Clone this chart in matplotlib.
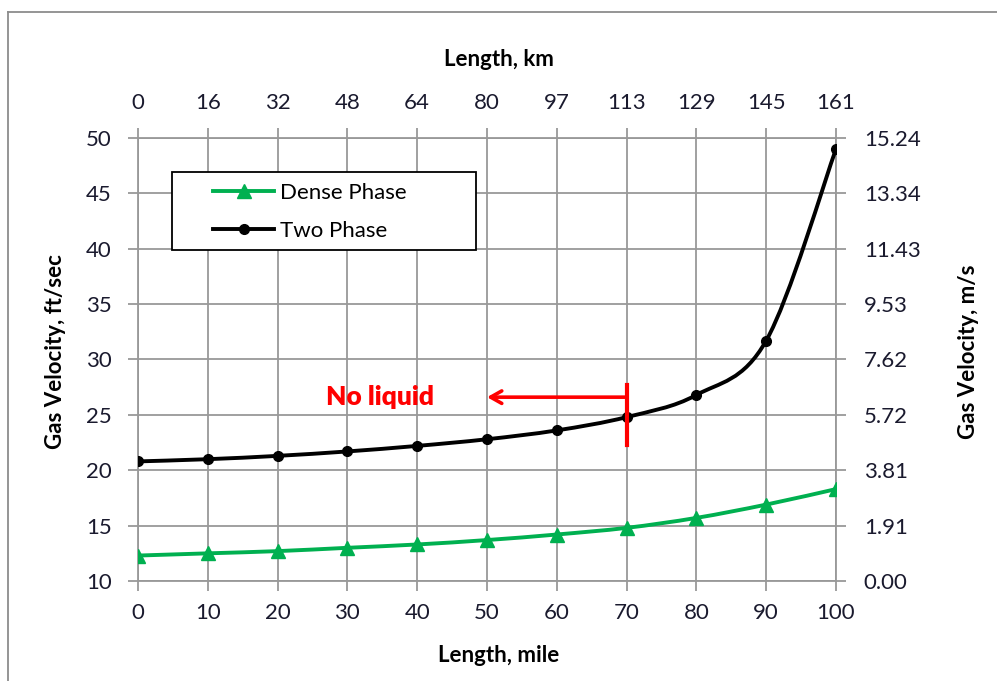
import matplotlib
matplotlib.use("Agg")
import matplotlib.pyplot as plt
from matplotlib.path import Path
from matplotlib.patches import PathPatch, Rectangle
from matplotlib.lines import Line2D
import numpy as np

plt.rcParams['font.family'] = ['Lato', 'DejaVu Sans']

# Dane
length_mile = [0, 10, 20, 30, 40, 50, 60, 70, 80, 90, 100]
dense_phase = [12.3, 12.5, 12.7, 13.0, 13.3, 13.7, 14.2, 14.8, 15.7, 16.9, 18.3]
two_phase = [20.8, 21.0, 21.3, 21.7, 22.2, 22.8, 23.6, 24.8, 26.8, 31.7, 49.0]

km_labels = ["0", "16", "32", "48", "64", "80", "97", "113", "129", "145", "161"]
ms_labels = ["0.00", "1.91", "3.81", "5.72", "7.62", "9.53", "11.43", "13.34", "15.24"]

GREEN = "#00B050"
GRID = "#999999"
FS = 16


def smooth_path(x, y):
    # krzywa Beziera jak "wygładzona linia" w Excelu
    x = np.asarray(x, float)
    y = np.asarray(y, float)
    verts = [(x[0], y[0])]
    codes = [Path.MOVETO]
    n = len(x)
    for i in range(n - 1):
        i0 = max(i - 1, 0)
        i3 = min(i + 2, n - 1)
        c1 = (x[i] + (x[i + 1] - x[i0]) / 6, y[i] + (y[i + 1] - y[i0]) / 6)
        c2 = (x[i + 1] - (x[i3] - x[i]) / 6, y[i + 1] - (y[i3] - y[i]) / 6)
        verts += [c1, c2, (x[i + 1], y[i + 1])]
        codes += [Path.CURVE4] * 3
    return Path(verts, codes)


fig = plt.figure(figsize=(9.97, 6.81), dpi=100)
ax = fig.add_axes([0.1384, 0.1468, 0.7001, 0.6506])

ax.set_xlim(0, 100)
ax.set_ylim(10, 50)
ax.set_xticks(np.arange(0, 101, 10))
ax.set_yticks(np.arange(10, 51, 5))
ax.grid(True, color=GRID, linewidth=1.3)
for s in ax.spines.values():
    s.set_color(GRID)
    s.set_linewidth(1.3)
ax.tick_params(direction="out", length=7, width=1.3, color=GRID,
               labelsize=FS, labelcolor="#1a1a2e")
ax.tick_params(axis="y", pad=12)
ax.tick_params(axis="x", pad=9)

# linie
ax.add_patch(PathPatch(smooth_path(length_mile, dense_phase), fill=False,
                       edgecolor=GREEN, linewidth=2.8, zorder=3))
ax.add_patch(PathPatch(smooth_path(length_mile, two_phase), fill=False,
                       edgecolor="black", linewidth=2.8, zorder=3))
ax.plot(length_mile, dense_phase, linestyle="none", marker="^", markersize=10,
        color=GREEN, zorder=4)
ax.plot(length_mile, two_phase, linestyle="none", marker="o", markersize=7,
        color="black", zorder=4)

# adnotacja
ax.plot([70, 70], [22.3, 27.7], color="red", linewidth=3, zorder=5)
ax.annotate("", xy=(50, 26.6), xytext=(70, 26.6),
            arrowprops=dict(arrowstyle="->,head_length=0.8,head_width=0.45",
                            color="red", lw=2.6, shrinkA=0, shrinkB=0), zorder=5)
ax.text(34.7, 26.6, "No liquid", color="red", fontsize=19, fontweight="heavy",
        ha="center", va="center")

# legenda: ramka rysowana osobno
ax.add_patch(Rectangle((0.0487, 0.7472), 0.4355, 0.1761, transform=ax.transAxes,
                       facecolor="white", edgecolor="black", linewidth=1.3,
                       zorder=6))
handles = [
    Line2D([], [], color=GREEN, marker="^", markersize=10, linewidth=2.8),
    Line2D([], [], color="black", marker="o", markersize=7, linewidth=2.8),
]
leg = ax.legend(handles, ["Dense Phase", "Two Phase"], loc="upper left",
                bbox_to_anchor=(0.1075, 0.898), borderaxespad=0, fontsize=FS,
                frameon=False, handlelength=2.75, handletextpad=0.27,
                borderpad=0, labelspacing=0.8)
leg.set_zorder(7)

# oś górna (km)
axt = ax.twiny()
axt.set_xlim(0, 100)
axt.set_xticks(length_mile)
axt.set_xticklabels(km_labels)
axt.tick_params(direction="out", length=7, width=1.3, color=GRID,
                labelsize=FS, labelcolor="#1a1a2e", pad=11)
for s in axt.spines.values():
    s.set_visible(False)

# oś prawa (m/s)
axr = ax.twinx()
axr.set_ylim(0, 15.24)
axr.set_yticks(np.linspace(0, 15.24, len(ms_labels)))
axr.set_yticklabels(ms_labels)
axr.tick_params(direction="out", length=7, width=1.3, color=GRID,
                labelsize=FS, labelcolor="#1a1a2e", pad=13)
for s in axr.spines.values():
    s.set_visible(False)

fig.text(0.5, 1 - 60 / 681, "Length, km", ha="center", va="center",
         fontsize=FS, fontweight="bold")
fig.text(0.5, 1 - 655 / 681, "Length, mile", ha="center", va="center",
         fontsize=FS, fontweight="bold")
fig.text(55 / 997, 1 - 352 / 681, "Gas Velocity, ft/sec", ha="center",
         va="center", rotation=90, fontsize=FS, fontweight="bold")
fig.text(968 / 997, 1 - 352 / 681, "Gas Velocity, m/s", ha="center",
         va="center", rotation=90, fontsize=FS, fontweight="bold")

# ramka obszaru wykresu (lewa i górna krawędź)
fig.add_artist(Line2D([8 / 997, 8 / 997], [0, 1 - 12 / 681],
                      transform=fig.transFigure, color="#8c8c8c", linewidth=1.3))
fig.add_artist(Line2D([8 / 997, 1], [1 - 12 / 681, 1 - 12 / 681],
                      transform=fig.transFigure, color="#8c8c8c", linewidth=1.3))

fig.savefig("out.png", dpi=100, facecolor="white")
